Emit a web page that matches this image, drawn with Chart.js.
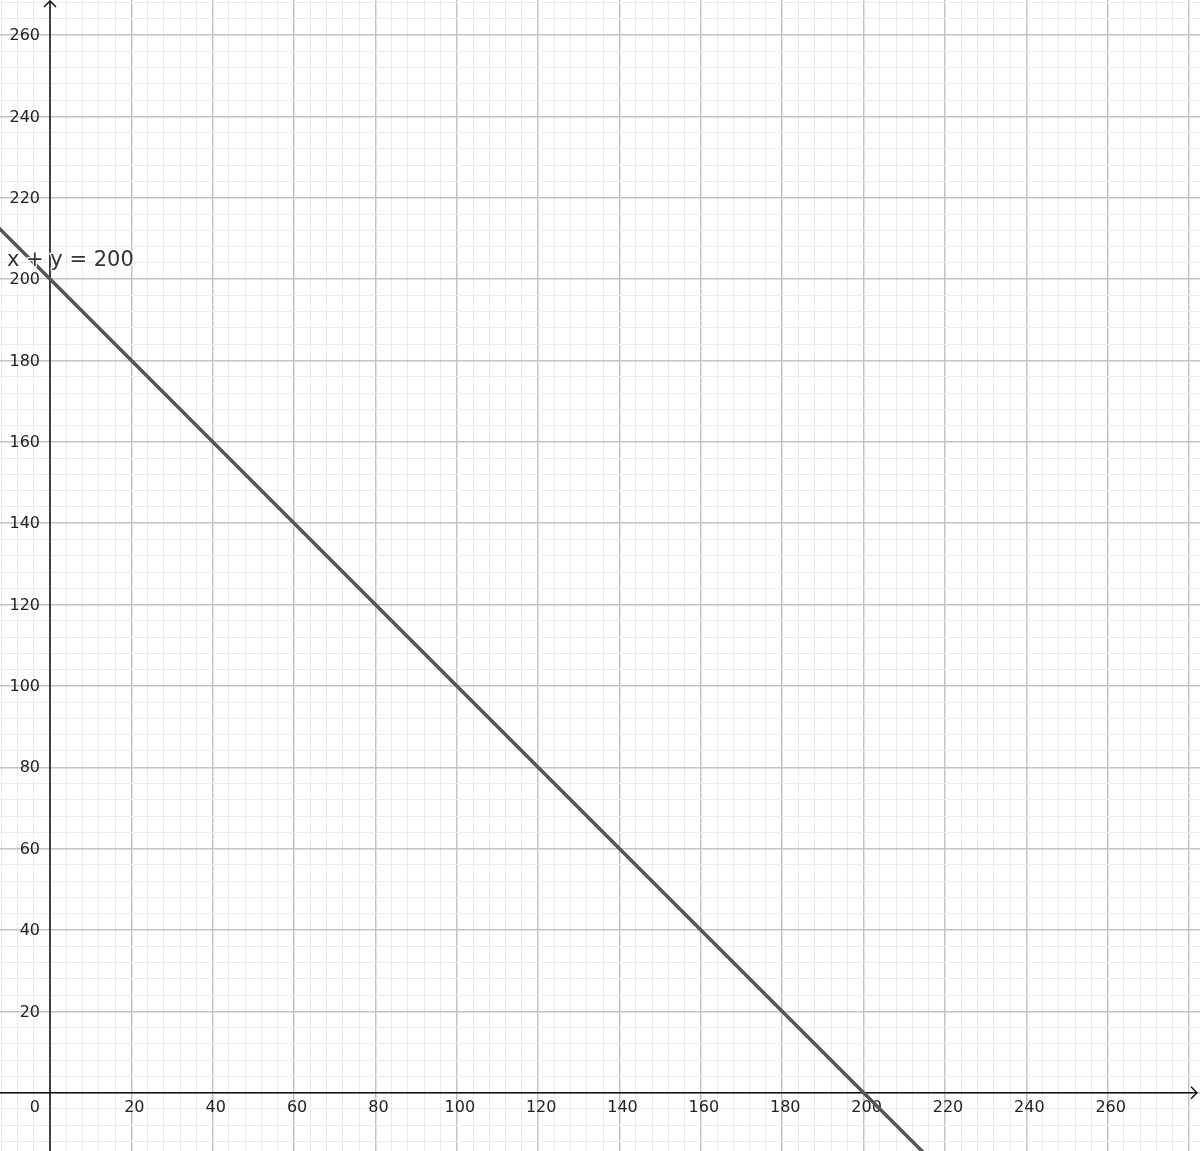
<!DOCTYPE html>
<html lang="en">
<head>
    <meta charset="UTF-8">
    <title>x + y = 200</title>
    <script src="https://cdn.jsdelivr.net/npm/chart.js"></script>
    <style>
        html, body { margin: 0; padding: 0; background: #fff; }
        .chart-container { position: relative; width: 1200px; height: 1151px; }
    </style>
</head>
<body>
    <div class="chart-container">
        <canvas id="graphChart"></canvas>
    </div>

    <script>
        // visible window (graph units)
        const xRange = [-12.29, 282.69];
        const yRange = [-14.33, 268.61];

        // tick labels on the axes
        const xTickLabels = [20, 40, 60, 80, 100, 120, 140, 160, 180, 200, 220, 240, 260];
        const yTickLabels = [20, 40, 60, 80, 100, 120, 140, 160, 180, 200, 220, 240, 260];

        // points on the line x + y = 200
        const lineX = [-20, 0, 100, 200, 220];
        const lineY = [220, 200, 100, 0, -20];

        const equationText = 'x + y = 200';
        const equationAt = { x: -10.57, y: 203.2 };

        const MINOR = '#ebebeb';
        const MAJOR = '#c4c4c4';

        function isMajor(v) {
            return Math.abs(v % 20) < 1e-6;
        }

        // axes, arrows and numbers, drawn like GeoGebra
        const axesPlugin = {
            id: 'axesPlugin',
            beforeDatasetsDraw(chart) {
                const ctx = chart.ctx;
                const xs = chart.scales.x;
                const ys = chart.scales.y;
                const ox = xs.getPixelForValue(0);
                const oy = ys.getPixelForValue(0);
                const area = chart.chartArea;

                ctx.save();
                ctx.strokeStyle = '#111';
                ctx.lineWidth = 1.5;
                ctx.beginPath();
                ctx.moveTo(area.left, oy);
                ctx.lineTo(area.right - 3, oy);
                ctx.moveTo(ox, area.bottom);
                ctx.lineTo(ox, area.top + 1);
                ctx.stroke();

                // arrow heads
                ctx.beginPath();
                ctx.moveTo(area.right - 9, oy - 6);
                ctx.lineTo(area.right - 3, oy);
                ctx.lineTo(area.right - 9, oy + 6);
                ctx.moveTo(ox - 6, area.top + 7);
                ctx.lineTo(ox, area.top + 1);
                ctx.lineTo(ox + 6, area.top + 7);
                ctx.stroke();

                ctx.fillStyle = '#222';
                ctx.font = '16px "DejaVu Sans", sans-serif';
                ctx.textBaseline = 'middle';

                ctx.textAlign = 'center';
                xTickLabels.forEach(v => {
                    ctx.fillText(String(v), xs.getPixelForValue(v) + 3, oy + 15.5);
                });

                ctx.textAlign = 'right';
                yTickLabels.forEach(v => {
                    ctx.fillText(String(v), ox - 10, ys.getPixelForValue(v) + 1);
                });
                ctx.fillText('0', ox - 10, oy + 15.5);
                ctx.restore();
            },
            afterDatasetsDraw(chart) {
                const ctx = chart.ctx;
                const px = chart.scales.x.getPixelForValue(equationAt.x);
                const py = chart.scales.y.getPixelForValue(equationAt.y);
                ctx.save();
                ctx.font = '21px "DejaVu Sans", sans-serif';
                ctx.textAlign = 'left';
                ctx.textBaseline = 'alphabetic';
                ctx.lineWidth = 2.5;
                ctx.strokeStyle = 'rgba(255,255,255,0.9)';
                ctx.strokeText(equationText, px, py);
                ctx.fillStyle = '#333';
                ctx.fillText(equationText, px, py);
                ctx.restore();
            }
        };

        const gridOptions = {
            drawTicks: false,
            color: c => isMajor(c.tick.value) ? MAJOR : MINOR,
            lineWidth: c => isMajor(c.tick.value) ? 1.5 : 1
        };

        const ctx = document.getElementById('graphChart').getContext('2d');
        new Chart(ctx, {
            type: 'scatter',
            data: {
                datasets: [{
                    label: equationText,
                    data: lineX.map((x, i) => ({ x: x, y: lineY[i] })),
                    showLine: true,
                    borderColor: '#555555',
                    borderWidth: 3.5,
                    pointRadius: 0,
                    pointHoverRadius: 0,
                    fill: false
                }]
            },
            options: {
                responsive: true,
                maintainAspectRatio: false,
                animation: false,
                layout: { padding: 0 },
                scales: {
                    x: {
                        type: 'linear',
                        min: xRange[0],
                        max: xRange[1],
                        border: { display: false },
                        grid: gridOptions,
                        ticks: { display: false, stepSize: 4, includeBounds: false, autoSkip: false }
                    },
                    y: {
                        type: 'linear',
                        min: yRange[0],
                        max: yRange[1],
                        border: { display: false },
                        grid: gridOptions,
                        ticks: { display: false, stepSize: 4, includeBounds: false, autoSkip: false }
                    }
                },
                plugins: {
                    legend: { display: false },
                    tooltip: { enabled: false }
                }
            },
            plugins: [axesPlugin]
        });
    </script>
</body>
</html>
